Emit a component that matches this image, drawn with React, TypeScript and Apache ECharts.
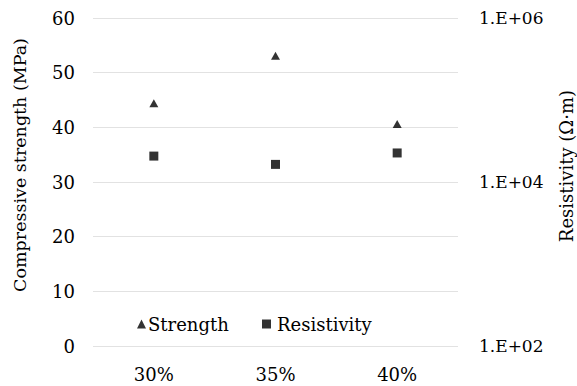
import React, { useEffect, useRef } from "react";
import * as echarts from "echarts";

const categories = ["30%", "35%", "40%"];
const strength = [44.4, 53.1, 40.6];
const resistivity = [20700, 16400, 22600];
const leftTitle = "Compressive strength (MPa)";
const rightTitle = "Resistivity (Ω·m)";

const FONT = "DejaVu Serif";
const FS = 18;

export default function App() {
  const ref = useRef<HTMLDivElement>(null);
  useEffect(() => {
    if (!ref.current) return;
    const chart = echarts.init(ref.current, undefined, { renderer: "svg" });
    chart.setOption({
      animation: false,
      backgroundColor: "#ffffff",
      textStyle: { fontFamily: FONT, color: "#000" },
      grid: { left: 93, right: 119, top: 18, bottom: 40 },
      legend: [
        {
          left: 132,
          top: 310,
          itemWidth: 9,
          itemHeight: 9,
          textStyle: { fontFamily: FONT, fontSize: FS, color: "#000", padding: [0, 0, 0, -3] },
          data: [{ name: "Strength", icon: "triangle" }],
        },
        {
          left: 257,
          top: 310,
          itemWidth: 9,
          itemHeight: 9,
          textStyle: { fontFamily: FONT, fontSize: FS, color: "#000", padding: [0, 0, 0, 1] },
          data: [{ name: "Resistivity", icon: "rect" }],
        },
      ],
      graphic: [
        {
          type: "text",
          x: 20,
          y: 165,
          rotation: Math.PI / 2,
          style: {
            text: leftTitle,
            fontFamily: FONT,
            fontSize: 17.5,
            fill: "#000",
            align: "center",
            verticalAlign: "middle",
          },
        },
        {
          type: "text",
          x: 566,
          y: 166,
          rotation: Math.PI / 2,
          style: {
            text: rightTitle,
            fontFamily: FONT,
            fontSize: FS,
            fill: "#000",
            align: "center",
            verticalAlign: "middle",
          },
        },
      ],
      xAxis: {
        type: "category",
        data: categories,
        boundaryGap: true,
        axisLine: { show: false },
        axisTick: { show: false },
        axisLabel: { fontFamily: FONT, fontSize: FS, color: "#000", margin: 19 },
      },
      yAxis: [
        {
          type: "value",
          min: 0,
          max: 60,
          interval: 10,
          axisLine: { show: false },
          axisTick: { show: false },
          axisLabel: { fontFamily: FONT, fontSize: FS, color: "#000", margin: 18 },
          splitLine: { show: true, lineStyle: { color: "#e2e2e2", width: 1 } },
        },
        {
          type: "log",
          logBase: 10,
          min: 100,
          max: 1000000,
          interval: 2,
          position: "right",
          axisLine: { show: false },
          axisTick: { show: false },
          splitLine: { show: false },
          axisLabel: {
            fontFamily: FONT,
            fontSize: 17,
            color: "#000",
            margin: 21,
            formatter: (v: number) =>
              "1.E+" + String(Math.round(Math.log10(v))).padStart(2, "0"),
          },
        },
      ],
      series: [
        {
          name: "Strength",
          type: "scatter",
          yAxisIndex: 0,
          symbol: "triangle",
          symbolSize: [9, 8],
          itemStyle: { color: "#000" },
          data: strength,
        },
        {
          name: "Resistivity",
          type: "scatter",
          yAxisIndex: 1,
          symbol: "rect",
          symbolSize: 9,
          itemStyle: { color: "#000" },
          data: resistivity,
        },
      ],
    });
    return () => chart.dispose();
  }, []);
  return (
    <div
      ref={ref}
      style={{ position: "absolute", left: 0, top: 0, width: 577, height: 386 }}
    />
  );
}
